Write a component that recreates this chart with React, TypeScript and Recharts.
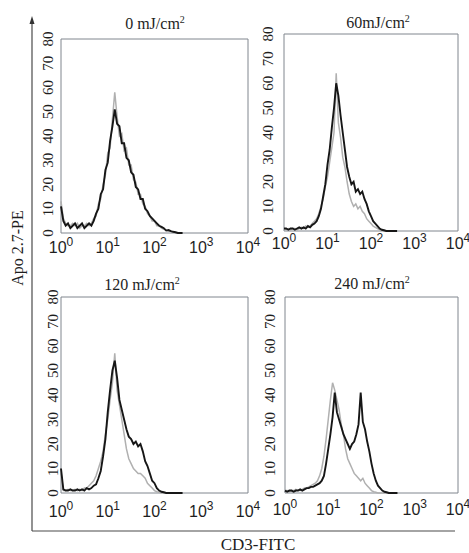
import { LineChart, Line, XAxis, YAxis, ReferenceArea } from 'recharts'

// log10 of CD3-FITC intensity, one bin every 0.05 decade
const logBins = [
    0, 0.05, 0.1, 0.15, 0.2, 0.25, 0.3, 0.35, 0.4, 0.45,
    0.5, 0.55, 0.6, 0.65, 0.7, 0.75, 0.8, 0.85, 0.9, 0.95,
    1, 1.05, 1.1, 1.15, 1.2, 1.25, 1.3, 1.35, 1.4, 1.45,
    1.5, 1.55, 1.6, 1.65, 1.7, 1.75, 1.8, 1.85, 1.9, 1.95,
    2, 2.05, 2.1, 2.15, 2.2, 2.25, 2.3, 2.35, 2.4, 2.45,
    2.5, 2.55, 2.6,
]

const xTicks = [0, 1, 2, 3, 4]
const yTicks = [0, 10, 20, 30, 40, 50, 60, 70, 80]

// 0 mJ/cm2
const dose0Dark = [
    11, 5, 3, 4, 2, 3, 4, 2, 3, 4,
    2, 3, 4, 3, 5, 8, 10, 16, 18, 26,
    29, 38, 44, 51, 45, 44, 37, 37, 31, 30,
    25, 24, 19, 18, 14, 14, 10, 9, 7, 6,
    5, 4, 3, 2.5, 2, 1, 1.2, 0.8, 0.5, 0.3,
    0, 0, 0,
]
const dose0Grey = [
    13, 6, 4, 3, 3, 4, 3, 4, 2, 3,
    3, 4, 3, 4, 6, 7, 12, 14, 20, 24,
    33, 35, 47, 58, 48, 40, 41, 34, 35, 28,
    28, 22, 21, 16, 16, 12, 11, 8, 7, 5,
    5, 3, 3, 2, 1.5, 1.2, 0.8, 0.6, 0.4, 0.2,
    0, 0, 0,
]

// 60 mJ/cm2
const dose60Dark = [
    1, 1, 0.5, 1, 1, 0.5, 1, 1.5, 1, 1.5,
    1, 2, 1.5, 2.5, 3, 4, 6, 9, 14, 19,
    27, 33, 42, 50, 60, 55, 47, 40, 33, 26,
    22, 19, 20, 16, 17, 15, 16, 13, 11, 8,
    6, 4, 3, 2, 1, 0.5, 0.3, 0, 0, 0,
    0, 0, 0,
]
const dose60Grey = [
    1, 0.5, 1, 0.5, 1, 1, 0.5, 1, 1.5, 1,
    2, 1.5, 2, 3, 4, 5, 7, 10, 13, 18,
    22, 28, 34, 40, 64, 44, 38, 30, 26, 20,
    15, 12, 10, 11, 9, 10, 8, 7, 5, 4,
    3, 2, 1.5, 1, 0.5, 0.3, 0, 0, 0, 0,
    0, 0, 0,
]

// 120 mJ/cm2
const dose120Dark = [
    10, 1.5, 1, 1, 1.5, 1, 1, 1.5, 1, 1.5,
    1, 2, 1.5, 2, 3, 3.5, 6, 9, 15, 22,
    33, 42, 50, 54, 47, 38, 34, 30, 26, 23,
    22, 20, 21, 19, 20, 17, 13, 11, 8, 5,
    4, 2, 1, 0.5, 0.3, 0, 0, 0, 0, 0,
    0, 0, 0,
]
const dose120Grey = [
    8, 1, 1, 1.5, 1, 1, 1.5, 1, 1.5, 1,
    2, 2, 3, 4, 5, 7, 10, 13, 17, 24,
    30, 38, 45, 57, 42, 36, 30, 24, 18, 14,
    12, 10, 9, 8, 8, 7, 6, 4, 3, 2,
    1, 0.5, 0.3, 0, 0, 0, 0, 0, 0, 0,
    0, 0, 0,
]

// 240 mJ/cm2
const dose240Dark = [
    1, 0.5, 1, 1, 0.5, 1, 1, 1.5, 1, 1.5,
    2, 2, 2.5, 2.5, 3, 3.5, 4, 5, 7, 12,
    18, 24, 31, 41, 33, 30, 27, 24, 22, 20,
    18, 20, 21, 24, 28, 41, 29, 26, 21, 17,
    12, 8, 5, 3, 2, 1, 0.5, 0.3, 0, 0,
    0, 0, 0,
]
const dose240Grey = [
    1, 1, 0.5, 1, 1, 1.5, 1, 1, 1.5, 2,
    2, 2.5, 3, 3.5, 4, 5, 7, 10, 15, 22,
    30, 38, 45, 42, 38, 34, 28, 24, 18, 14,
    12, 10, 8, 7, 6, 5, 6, 4, 3, 2,
    1, 0.5, 0.3, 0, 0, 0, 0, 0, 0, 0,
    0, 0, 0,
]

const SERIF = '"Liberation Serif", "Times New Roman", serif'
const SANS = '"Liberation Sans", Arial, sans-serif'
const INK = '#1e1e1e'

const buildRows = (dark: number[], grey: number[]) =>
    logBins.map((x, i) => ({ x, dark: dark[i], grey: grey[i] }))

interface PanelProps {
    left: number
    top: number
    w: number
    h: number
    dark: number[]
    grey: number[]
    yLabelGap: number
    xLabelGap: number
}

function Panel({ left, top, w, h, dark, grey, yLabelGap, xLabelGap }: PanelProps) {
    const rows = buildRows(dark, grey)

    const XTick = ({ x, y, payload }: any) => (
        <text x={x} y={y + xLabelGap} textAnchor="middle" fontFamily={SANS} fontSize={16} fill={INK}>
            10<tspan dy={-7} fontSize={12}>{payload.value}</tspan>
        </text>
    )

    const YTick = ({ x, y, payload }: any) => {
        const tx = x - yLabelGap
        return (
            <text
                x={tx}
                y={y}
                transform={`rotate(-90 ${tx} ${y})`}
                textAnchor="middle"
                fontFamily={SERIF}
                fontSize={15}
                fill={INK}
            >
                {payload.value}
            </text>
        )
    }

    return (
        <div style={{ position: 'absolute', left: left - 40, top: top - 10 }}>
            <LineChart
                width={w + 60}
                height={h + 40}
                data={rows}
                margin={{ top: 10, right: 20, bottom: 0, left: 0 }}
            >
                <XAxis
                    type="number"
                    dataKey="x"
                    domain={[0, 4]}
                    ticks={xTicks}
                    axisLine={false}
                    tickLine={false}
                    tickSize={0}
                    tickMargin={0}
                    height={30}
                    tick={<XTick />}
                />
                <YAxis
                    type="number"
                    domain={[0, 80]}
                    ticks={yTicks}
                    axisLine={false}
                    tickLine={false}
                    tickSize={0}
                    tickMargin={0}
                    width={40}
                    tick={<YTick />}
                />
                <ReferenceArea x1={0} x2={4} y1={0} y2={80} fill="none" stroke="#80868e" strokeWidth={1} />
                <Line
                    type="linear"
                    dataKey="grey"
                    stroke="#b0b0b0"
                    strokeWidth={1.5}
                    dot={false}
                    isAnimationActive={false}
                />
                <Line
                    type="linear"
                    dataKey="dark"
                    stroke="#161616"
                    strokeWidth={1.9}
                    dot={false}
                    isAnimationActive={false}
                />
            </LineChart>
        </div>
    )
}

const sup = (base: string) => (
    <>
        {base}
        <tspan dy={-6} fontSize={10}>2</tspan>
    </>
)

export default function App() {
    return (
        <div style={{ position: 'absolute', left: 0, top: 0, width: 469, height: 553, background: '#fff', overflow: 'hidden' }}>
            <svg width={469} height={553} style={{ position: 'absolute', left: 0, top: 0 }}>
                <line x1={32} y1={22} x2={32} y2={531} stroke="#4a4a4a" strokeWidth={1.2} />
                <line x1={32} y1={531} x2={455} y2={531} stroke="#4a4a4a" strokeWidth={1.2} />
                <polygon points="32,16 29.5,24 34.5,24" fill="#333" />

                <text x={155} y={29} textAnchor="middle" fontFamily={SERIF} fontSize={16} fill={INK}>{sup('0 mJ/cm')}</text>
                <text x={378} y={28} textAnchor="middle" fontFamily={SERIF} fontSize={16} fill={INK}>{sup('60mJ/cm')}</text>
                <text x={142} y={290} textAnchor="middle" fontFamily={SERIF} fontSize={16} fill={INK}>{sup('120 mJ/cm')}</text>
                <text x={372} y={289} textAnchor="middle" fontFamily={SERIF} fontSize={16} fill={INK}>{sup('240 mJ/cm')}</text>

                <text x={23} y={248} transform="rotate(-90 23 248)" textAnchor="middle" fontFamily={SERIF} fontSize={16} fill={INK}>
                    Apo 2.7-PE
                </text>
                <text x={258} y={550} textAnchor="middle" fontFamily={SERIF} fontSize={17} fill={INK}>CD3-FITC</text>
            </svg>

            <Panel left={61} top={39} w={187} h={194} dark={dose0Dark} grey={dose0Grey} yLabelGap={8} xLabelGap={20} />
            <Panel left={284} top={34} w={174} h={197} dark={dose60Dark} grey={dose60Grey} yLabelGap={11} xLabelGap={18} />
            <Panel left={61} top={297} w={187} h={196} dark={dose120Dark} grey={dose120Grey} yLabelGap={3} xLabelGap={24} />
            <Panel left={285} top={297} w={173} h={196} dark={dose240Dark} grey={dose240Grey} yLabelGap={10} xLabelGap={22} />
        </div>
    )
}
